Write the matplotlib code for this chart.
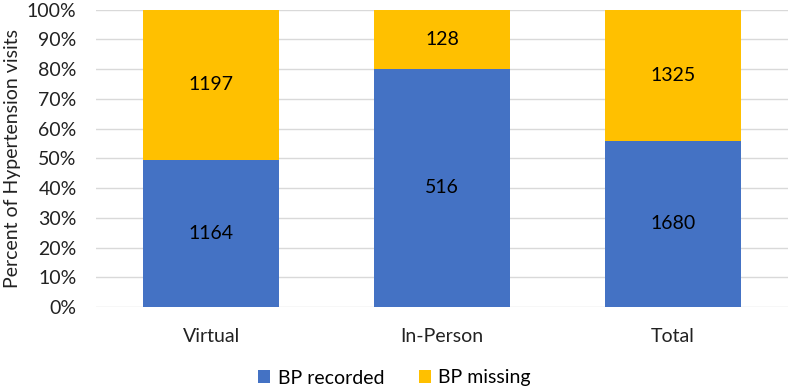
import matplotlib
matplotlib.use("Agg")
import matplotlib.pyplot as plt
import numpy as np

categories = ["Virtual", "In-Person", "Total"]
bp_recorded = [1164, 516, 1680]
bp_missing = [1197, 128, 1325]

plt.rcParams['font.family'] = ['Lato', 'DejaVu Sans']
FS = 14

rec = np.array(bp_recorded, dtype=float)
mis = np.array(bp_missing, dtype=float)
tot = rec + mis
rec_p = rec / tot * 100
mis_p = mis / tot * 100

fig = plt.figure(figsize=(7.89, 3.89), dpi=100)
ax = fig.add_axes([96/789, 1 - 307/389, (788-96)/789, (307-9.5)/389])

x = np.arange(len(categories))
w = 0.59
blue = "#4472C4"
gold = "#FFC000"
ax.bar(x, rec_p, width=w, color=blue, label="BP recorded", zorder=3)
ax.bar(x, mis_p, width=w, bottom=rec_p, color=gold, label="BP missing", zorder=3)

for i in range(len(categories)):
    ax.text(x[i], rec_p[i] / 2, f"{bp_recorded[i]}", ha="center", va="center", fontsize=FS, color="black", zorder=4)
    ax.text(x[i], rec_p[i] + mis_p[i] / 2, f"{bp_missing[i]}", ha="center", va="center", fontsize=FS, color="black", zorder=4)

ax.set_xlim(-0.5, 2.5)
ax.set_ylim(0, 100)
ax.set_yticks(np.arange(0, 101, 10))
ax.set_yticklabels([f"{v}%" for v in range(0, 101, 10)], fontsize=FS, color="#222222")
ax.set_xticks(x)
ax.set_xticklabels(categories, fontsize=FS, color="#222222")
ax.tick_params(axis="both", length=0)
ax.tick_params(axis="x", pad=15)
ax.tick_params(axis="y", pad=14)
ax.grid(axis="y", color="#D9D9D9", linewidth=1, zorder=0)
for s in ax.spines.values():
    s.set_visible(False)
ax.set_ylabel("Percent of Hypertension visits", fontsize=FS, color="#222222", labelpad=4)

leg = fig.legend(loc="center", bbox_to_anchor=(0.5, 1 - 378/389), ncol=2, frameon=False,
                 fontsize=FS, handlelength=0.6, handleheight=0.6, columnspacing=1.8, handletextpad=0.4)

fig.savefig("out.png", dpi=100)
